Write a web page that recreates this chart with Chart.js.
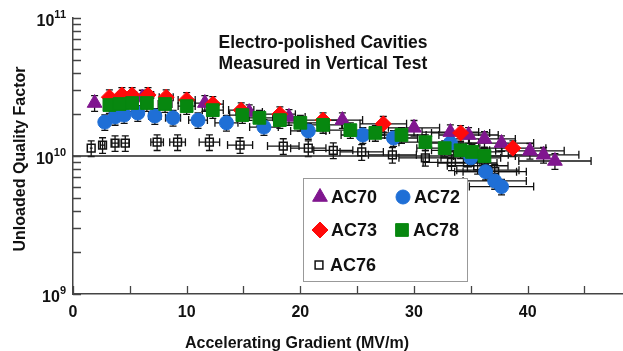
<!DOCTYPE html>
<html>
<head>
<meta charset="utf-8">
<script src="https://cdn.jsdelivr.net/npm/chart.js@4.4.1/dist/chart.umd.min.js"></script>
<style>
  html, body { margin: 0; padding: 0; background: #fff; }
  #wrap { width: 623px; height: 351px; }
</style>
</head>
<body>
<div id="wrap"><canvas id="qe" width="623" height="351"></canvas></div>
<script>
// Q0 vs Eacc. Gradient in MV/m, Q0 in units of 1e10
var AC70_E = [1.9, 6.1, 11.6, 15.5, 19.0, 23.7, 30.0, 33.2, 34.8, 36.2, 37.7, 40.2, 41.4, 42.4];
var AC70_Q = [2.42, 2.65, 2.42, 2.08, 1.92, 1.82, 1.60, 1.49, 1.42, 1.33, 1.24, 1.09, 1.02, 0.92];

var AC72_E = [2.8, 3.7, 4.5, 5.7, 7.2, 8.8, 11.0, 13.5, 16.8, 20.7, 25.5, 28.2, 33.2, 35.0, 36.3, 37.1, 37.7];
var AC72_Q = [1.76, 1.92, 1.98, 2.05, 1.95, 1.89, 1.82, 1.74, 1.62, 1.52, 1.42, 1.35, 1.24, 0.97, 0.77, 0.66, 0.60];

var AC73_E = [3.2, 4.3, 5.2, 6.6, 8.2, 10.0, 12.3, 14.8, 18.2, 22.0, 27.3, 34.1, 38.7];
var AC73_Q = [2.67, 2.77, 2.77, 2.77, 2.67, 2.55, 2.38, 2.15, 2.01, 1.82, 1.71, 1.47, 1.14];

var AC78_E = [3.2, 4.1, 5.2, 6.5, 8.1, 10.0, 12.3, 14.9, 16.4, 18.2, 20.0, 22.0, 24.4, 26.6, 28.9, 31.0, 32.7, 34.1, 35.1, 36.2];
var AC78_Q = [2.34, 2.38, 2.42, 2.42, 2.38, 2.30, 2.15, 1.98, 1.89, 1.82, 1.74, 1.68, 1.54, 1.47, 1.42, 1.26, 1.14, 1.10, 1.07, 1.00];

var AC76_E = [1.6, 2.6, 3.7, 4.6, 7.4, 9.2, 12.0, 14.7, 18.5, 20.7, 22.9, 25.4, 28.1, 31.0, 33.3, 34.7, 35.6, 36.5, 37.1];
var AC76_Q = [1.14, 1.20, 1.24, 1.24, 1.26, 1.26, 1.26, 1.20, 1.18, 1.14, 1.10, 1.07, 1.02, 0.97, 0.90, 0.89, 0.85, 0.79, 0.77];

// 1e10 reference line
var REF_E = [0, 42];
var REF_Q = [1.0, 1.0];

var Y_DECADES = [1e9, 1e10, 1e11];
var Y_EXPONENTS = ["9", "10", "11"];
var X_MAX = 48.3;

var X_ERR = 0.075; // relative uncertainty on gradient
var Y_ERR = 0.13;  // relative uncertainty on Q0

var FONT = "'Liberation Sans', Arial, Helvetica, sans-serif";

const pts = (E, Q) => E.map((e, i) => ({ x: e, y: Q[i] * 1e10 }));

/* error bars, drawn under the markers */
const errorBars = {
    id: "errorBars",
    beforeDatasetsDraw(chart) {
        const ctx = chart.ctx, xs = chart.scales.x, ys = chart.scales.y;
        ctx.save();
        ctx.strokeStyle = "#111";
        ctx.lineWidth = 1.3;
        chart.data.datasets.forEach((ds) => {
            if (!ds.errorBars) return;
            ds.data.forEach((p) => {
                var cx = xs.getPixelForValue(p.x), cy = ys.getPixelForValue(p.y);
                var x0 = xs.getPixelForValue(p.x * (1 - X_ERR)), x1 = xs.getPixelForValue(p.x * (1 + X_ERR));
                var y0 = ys.getPixelForValue(p.y * (1 - Y_ERR)), y1 = ys.getPixelForValue(p.y * (1 + Y_ERR));
                ctx.beginPath();
                ctx.moveTo(x0, cy); ctx.lineTo(x1, cy);
                ctx.moveTo(cx, y0); ctx.lineTo(cx, y1);
                if (x1 - x0 > 4) {
                    ctx.moveTo(x0, cy - 4); ctx.lineTo(x0, cy + 4);
                    ctx.moveTo(x1, cy - 4); ctx.lineTo(x1, cy + 4);
                }
                ctx.moveTo(cx - 3.5, y0); ctx.lineTo(cx + 3.5, y0);
                ctx.moveTo(cx - 3.5, y1); ctx.lineTo(cx + 3.5, y1);
                ctx.stroke();
            });
        });
        ctx.restore();
    }
};

/* inward ticks, y labels with exponents, titles, legend box */
const decor = {
    id: "decor",
    afterDraw(chart) {
        const ctx = chart.ctx, xs = chart.scales.x, ys = chart.scales.y, a = chart.chartArea;
        ctx.save();
        ctx.strokeStyle = "#444";
        ctx.lineWidth = 1.3;
        ctx.beginPath();
        for (var v = 0; v <= X_MAX; v += 5) {
            var px = Math.round(xs.getPixelForValue(v)) + 0.5;
            ctx.moveTo(px, a.bottom); ctx.lineTo(px, a.bottom - 8);
        }
        Y_DECADES.forEach((d, k) => {
            var top = k === Y_DECADES.length - 1 ? 1 : 9;
            for (var m = 1; m <= top; m++) {
                var py = Math.round(ys.getPixelForValue(m * d)) + 0.5;
                ctx.moveTo(a.left, py); ctx.lineTo(a.left + 8, py);
            }
        });
        ctx.stroke();

        // y tick labels 10^n
        ctx.fillStyle = "#111";
        ctx.textBaseline = "middle";
        Y_DECADES.forEach((d, k) => {
            var py = ys.getPixelForValue(d);
            ctx.font = "bold 11px " + FONT;
            var ew = ctx.measureText(Y_EXPONENTS[k]).width;
            ctx.textAlign = "left";
            ctx.fillText(Y_EXPONENTS[k], 66 - ew, py - 3);
            ctx.font = "bold 16px " + FONT;
            ctx.textAlign = "right";
            ctx.fillText("10", 66 - ew, py + 4);
        });

        // axis titles
        ctx.font = "bold 16px " + FONT;
        ctx.textAlign = "center";
        ctx.textBaseline = "alphabetic";
        ctx.fillText("Accelerating Gradient (MV/m)", 297, 348);
        ctx.save();
        ctx.translate(25, 159);
        ctx.rotate(-Math.PI / 2);
        ctx.fillText("Unloaded Quality Factor", 0, 0);
        ctx.restore();

        // in-plot title
        ctx.font = "bold 17.5px " + FONT;
        ctx.textBaseline = "middle";
        ctx.fillText("Electro-polished Cavities", 323, 43);
        ctx.fillText("Measured in Vertical Test", 323, 64);

        // legend
        ctx.fillStyle = "#fff";
        ctx.fillRect(303.5, 178.5, 164, 103);
        ctx.strokeStyle = "#999";
        ctx.lineWidth = 1;
        ctx.strokeRect(303.5, 178.5, 164, 103);
        var items = [
            { ds: 2, x: 320, y: 197, r: 8.5 },
            { ds: 3, x: 403, y: 197, r: 7 },
            { ds: 4, x: 320, y: 230, r: 8 },
            { ds: 5, x: 402, y: 230, r: 9 },
            { ds: 1, x: 319, y: 265, r: 5.5 }
        ];
        items.forEach((it) => {
            var ds = chart.data.datasets[it.ds];
            ctx.fillStyle = ds.backgroundColor;
            ctx.strokeStyle = ds.borderColor;
            ctx.lineWidth = ds.borderWidth;
            Chart.helpers.drawPoint(ctx, { pointStyle: ds.pointStyle, radius: it.r, rotation: 0, borderWidth: ds.borderWidth }, it.x, it.y);
            ctx.fillStyle = "#111";
            ctx.font = "bold 18px " + FONT;
            ctx.textAlign = "left";
            ctx.textBaseline = "middle";
            ctx.fillText(ds.label, it.x + 11, it.y + 1);
        });
        ctx.restore();
    }
};

new Chart(document.getElementById("qe"), {
    type: "scatter",
    data: {
        datasets: [
            {
                label: "ref", type: "line", data: pts(REF_E, REF_Q), showLine: true,
                borderColor: "#222", borderWidth: 1.3, pointRadius: 0, order: 6
            },
            {
                label: "AC76", data: pts(AC76_E, AC76_Q), errorBars: true, order: 5,
                pointStyle: "rect", pointRadius: 5.5, borderWidth: 1.5,
                backgroundColor: "rgba(255,255,255,0)", borderColor: "#111"
            },
            {
                label: "AC70", data: pts(AC70_E, AC70_Q), errorBars: true, order: 3,
                pointStyle: "triangle", pointRadius: 8.5, borderWidth: 1,
                backgroundColor: "#80168F", borderColor: "#80168F"
            },
            {
                label: "AC72", data: pts(AC72_E, AC72_Q), errorBars: true, order: 4,
                pointStyle: "circle", pointRadius: 7, borderWidth: 1,
                backgroundColor: "#1F6FD6", borderColor: "#1F6FD6"
            },
            {
                label: "AC73", data: pts(AC73_E, AC73_Q), errorBars: true, order: 2,
                pointStyle: "rectRot", pointRadius: 8, borderWidth: 1,
                backgroundColor: "#FF0A0A", borderColor: "#FF0A0A"
            },
            {
                label: "AC78", data: pts(AC78_E, AC78_Q), errorBars: true, order: 1,
                pointStyle: "rect", pointRadius: 9, borderWidth: 1,
                backgroundColor: "#07870F", borderColor: "#07870F"
            }
        ]
    },
    options: {
        responsive: false,
        animation: false,
        devicePixelRatio: 1,
        layout: { autoPadding: false, padding: { top: 18, right: 1, left: 0, bottom: 0 } },
        plugins: {
            legend: { display: false },
            tooltip: { enabled: false }
        },
        scales: {
            x: {
                type: "linear",
                min: 0,
                max: X_MAX,
                afterFit: (s) => { s.height = 57; },
                grid: { display: false, drawTicks: false },
                border: { color: "#444", width: 1.5 },
                ticks: {
                    stepSize: 10,
                    includeBounds: false,
                    padding: 9,
                    color: "#111",
                    font: { family: FONT, size: 16, weight: "bold" }
                }
            },
            y: {
                type: "logarithmic",
                min: 1e9,
                max: 1e11,
                afterFit: (s) => { s.width = 73; },
                grid: { display: false, drawTicks: false },
                border: { color: "#444", width: 1.5 },
                ticks: { display: false }
            }
        }
    },
    plugins: [errorBars, decor]
});
</script>
</body>
</html>
